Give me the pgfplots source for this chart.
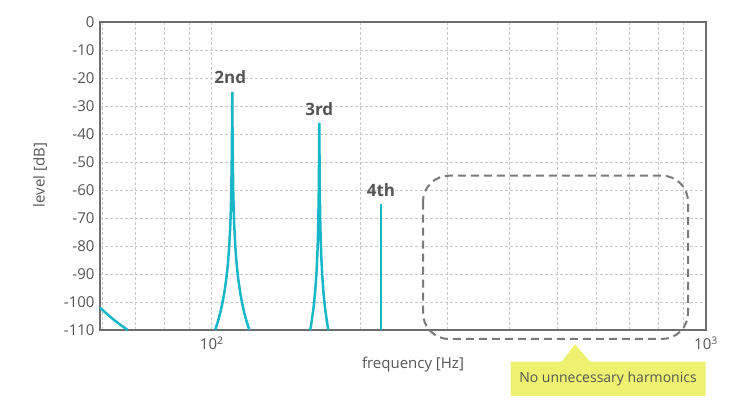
\documentclass[border=0pt]{standalone}
\usepackage{fontspec}
\setmainfont{Open Sans}
\usepackage{pgfplots}
\pgfplotsset{compat=1.18}
\definecolor{cyanline}{HTML}{17B7C7}
\definecolor{axisgray}{HTML}{6E6E6E}
\definecolor{gridgray}{HTML}{C8C8C8}
\definecolor{txtgray}{HTML}{555555}
\definecolor{dashgray}{HTML}{7A7A7A}
\definecolor{calloutyellow}{HTML}{EEF170}
\begin{document}
\begin{tikzpicture}[x=1pt,y=1pt]
\path[use as bounding box] (-100,-81) rectangle (650,330);
\begin{axis}[
  at={(0,0)}, anchor=south west,
  scale only axis, width=606pt, height=308pt,
  xmode=log, xmin=59.4, xmax=1000,
  ymin=-110, ymax=0,
  ytick={-110,-100,...,0},
  xtick={100,1000},
  xticklabels={10\textsuperscript{2},10\textsuperscript{3}},
  minor xtick={60,70,80,90,200,300,400,500,600,700,800,900},
  grid=both,
  major grid style={gridgray, line width=0.8pt, dash pattern=on 3pt off 2pt},
  minor grid style={gridgray, line width=0.8pt, dash pattern=on 3pt off 2pt},
  axis line style={axisgray, line width=2pt},
  major tick length=0pt, minor tick length=0pt,
  tick style={draw=none},
  ticklabel style={font=\fontsize{15}{17}\selectfont, text=txtgray},
  yticklabel style={xshift=-2pt},
  xticklabel style={yshift=-3pt},
  /pgf/number format/assume math mode=true,
  clip=false,
]
% fundamental tail
\addplot[cyanline, line width=2.5pt] coordinates {
(59.4,-102) (61.35,-104.3) (63.4,-106.4) (65.5,-108.3) (67.6,-110)};
% 2nd harmonic
\addplot[cyanline, line width=2.5pt] coordinates {
(101.61,-110) (103.04,-106.56) (104.01,-103.88) (104.98,-100.71) (105.97,-96.84)
(106.96,-91.84) (107.46,-88.67) (107.97,-84.80) (108.47,-79.81) (108.98,-72.79)
(109.23,-67.82) (109.49,-60.85) (109.74,-49.22) (109.87,-38.65) (110,-25)
(110.13,-38.65) (110.26,-49.22) (110.51,-60.85) (110.77,-67.82) (111.03,-72.79)
(111.55,-79.81) (112.07,-84.80) (112.60,-88.67) (113.12,-91.84) (114.18,-96.84)
(115.26,-100.71) (116.34,-103.88) (117.43,-106.56) (119.09,-110)};
% 3rd harmonic
\addplot[cyanline, line width=2.5pt] coordinates {
(158.17,-110) (158.95,-107.84) (160.44,-102.84) (161.19,-99.67) (161.95,-95.80)
(162.71,-90.81) (163.47,-83.79) (163.85,-78.82) (164.23,-71.85) (164.62,-60.22)
(164.81,-49.65) (165,-36)
(165.19,-49.65) (165.39,-60.22) (165.77,-71.85) (166.16,-78.82) (166.55,-83.79)
(167.33,-90.81) (168.11,-95.80) (168.90,-99.67) (169.69,-102.84) (171.28,-107.84)
(172.13,-110)};
% 4th harmonic
\addplot[cyanline, line width=2.5pt] coordinates {(220,-110) (220,-65)};
\node[anchor=south, text=txtgray, font=\fontsize{17}{19}\selectfont\bfseries, inner sep=0pt] at (axis cs:109,-22) {2nd};
\node[anchor=south, text=txtgray, font=\fontsize{17}{19}\selectfont\bfseries, inner sep=0pt] at (axis cs:165,-33.5) {3rd};
\node[anchor=south, text=txtgray, font=\fontsize{17}{19}\selectfont\bfseries, inner sep=0pt] at (axis cs:220,-62.5) {4th};
\end{axis}
% labels
\node[rotate=90, text=txtgray, font=\fontsize{15}{17}\selectfont] at (-60,155) {level [dB]};
\node[text=txtgray, font=\fontsize{15}{17}\selectfont] at (313,-35) {frequency [Hz]};
% dashed region
\draw[dashgray, line width=2pt, dash pattern=on 8pt off 5pt, rounded corners=26pt] (323,154.3) rectangle (588,-9);
% callout
\fill[calloutyellow] (410.7,-31.7) -- (461.7,-31.7) -- (475,-14.3) -- (490,-31.7) -- (605.7,-31.7) -- (605.7,-66) -- (410.7,-66) -- cycle;
\node[text=txtgray, font=\fontsize{14}{16}\selectfont] at (508,-49) {No unnecessary harmonics};
\end{tikzpicture}
\end{document}
